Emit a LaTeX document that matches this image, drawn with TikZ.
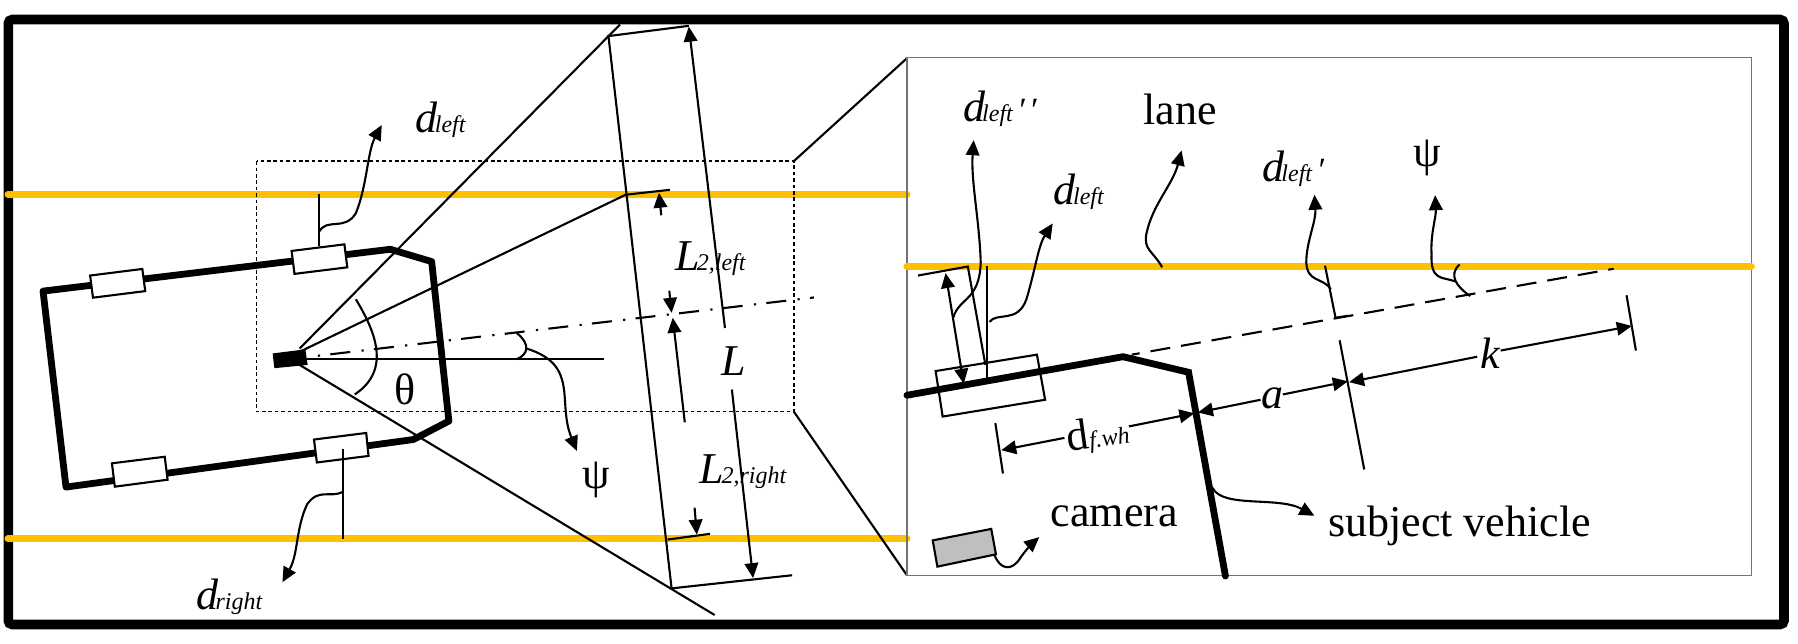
\documentclass[tikz,border=0pt]{standalone}
\usepackage{fontspec}
\setmainfont{Liberation Serif}
\usetikzlibrary{arrows.meta}
\definecolor{lanecol}{HTML}{FFC000}
\newcommand{\subtxt}[1]{{\fontsize{12}{12}\selectfont\kern-1.4pt #1}}
\newcommand{\dsub}[1]{\textit{d\subtxt{#1}}}
\newcommand{\onepr}{{\fontsize{17}{17}\selectfont\textit{′}}}
\tikzset{
 scopeA/.style={x=0.287pt,y=-0.205pt},
 scopeB/.style={x=0.29275pt,y=-0.205pt,shift={(440pt,0pt)}},
 thinline/.style={line width=1.05pt,black},
 carline/.style={line width=3.4pt,black,line join=miter,line cap=round},
 laneline/.style={line width=3.5pt,lanecol,line cap=round},
 wheelbox/.style={line width=1.05pt,draw=black,fill=white},
 tip/.style={-{Triangle[length=7.5pt,width=6.8pt]}},
 tips/.style={{Triangle[length=7.5pt,width=6.8pt]}-{Triangle[length=7.5pt,width=6.8pt]}},
 lbl/.style={inner sep=0pt,font=\fontsize{22}{24}\selectfont},
}
\begin{document}
\begin{tikzpicture}[x=0.5pt,y=-0.5pt]
\useasboundingbox (0,0) rectangle (1798,643);
\fill[white] (0,0) rectangle (1798,643);
% frame
\draw[line width=4.8pt,black,rounded corners=2pt] (8.3,19.5) rectangle (1784,624.5);
% ---------- left part
\begin{scope}[scopeA]
\draw[laneline] (14,474) -- (1580,474);
\draw[laneline] (14,1314) -- (1580,1314);
\draw[line width=0.8pt,dash pattern=on 1.8pt off 1.4pt] (447,393) rectangle (1383,1004);
\draw[thinline] (1383,393) -- (1580,142);
\draw[thinline] (1383,1004) -- (1580,1403);
% rays
\draw[thinline] (522,850) -- (1080,60);
\draw[thinline] (522,858) -- (1090,475) -- (1167,463);
\draw[thinline] (522,890) -- (1245,1500);
\draw[thinline] (535,876) -- (1052,876);
\draw[line width=1.05pt,dash pattern=on 10pt off 5.7pt on 1.1pt off 5.15pt,dash phase=11.7pt] (540,870) -- (1418,725.5);
% far plane
\draw[thinline] (1200,63) -- (1060,88) -- (1170,1435) -- (1380,1403);
% car
\draw[carline,line join=round] (680,608) -- (752,638) -- (782,1027) -- (720,1072) -- (115,1188) -- (75,710) -- cycle;
\draw[wheelbox] (157,672) -- (248,656) -- (253,710) -- (162,726) -- cycle;
\draw[wheelbox] (508,612) -- (600,596) -- (605,652) -- (513,668) -- cycle;
\draw[wheelbox] (195,1130) -- (287,1114) -- (292,1170) -- (200,1187) -- cycle;
\draw[wheelbox] (547,1072) -- (638,1056) -- (642,1112) -- (552,1128) -- cycle;
\fill[black] (475,862) -- (532,852) -- (536,890) -- (478,898) -- cycle;
% angle arcs
\draw[thinline] (620,730) .. controls (650,800) and (685,900) .. (618,962);
\draw[thinline] (900,812) .. controls (925,840) and (920,865) .. (900,876);
\draw[thinline,tip] (917,850) .. controls (1010,890) and (970,980) .. (1005,1100);
% L arrows
\draw[thinline,tip] (1263,800) -- (1200,65);
\draw[thinline,tip] (1275,950) -- (1312,1410);
\draw[thinline,tip] (1152,525) -- (1148,470);
\draw[thinline,tip] (1193,1030) -- (1172,775);
\draw[thinline,tip] (1166,709) -- (1170,763);
\draw[thinline,tip] (1210,1238) -- (1214,1304);
\draw[thinline] (1163,1316) -- (1237,1302);
% d left / right
\draw[thinline] (556,472) -- (556,600);
\draw[thinline,tip] (556,565) .. controls (570,530) and (600,565) .. (620,520) .. controls (640,450) and (640,370) .. (665,305);
\draw[thinline] (597,1095) -- (597,1315);
\draw[thinline,tip] (597,1200) .. controls (575,1215) and (555,1190) .. (535,1230) .. controls (515,1290) and (520,1350) .. (492,1420);
% labels
\node[lbl] (dleftA) at (768,292) {\dsub{left}};
\node[lbl] (l2left) at (1238,630) {\textit{L\subtxt{2,left}}};
\node[lbl] (bigL) at (1278,880) {\textit{L}};
\node[lbl] (thetaA) at (706,950) {θ};
\node[lbl] (psiA) at (1038,1170) {ψ};
\node[lbl] (l2right) at (1295,1150) {\textit{L\subtxt{2,right}}};
\node[lbl] (drightA) at (400,1456) {\dsub{right}};
\end{scope}
% ---------- right part
\begin{scope}[scopeB]
\draw[line width=0.6pt,black!55] (46,140) rectangle (1488,1403);
\draw[laneline] (46,650) -- (1488,650);
\draw[line width=1.05pt,dash pattern=on 10pt off 5.5pt,dash phase=6pt] (430,865) -- (1253,655.5);
\draw[line width=1.05pt] (95,905) -- (268,865) -- (282,975) -- (107,1016) -- cycle;
\draw[carline,line join=miter] (46,964) -- (415,870) -- (527,908) -- (590,1405);
% d left parts
\draw[thinline] (65,672) -- (150,650) -- (180,890);
\draw[thinline] (183,648) -- (183,922);
\draw[thinline,tips] (112,666) -- (143,936);
\draw[thinline,tip] (125,775) .. controls (135,725) and (170,735) .. (172,640) .. controls (170,540) and (155,440) .. (160,342);
\draw[thinline,tip] (187,785) .. controls (200,760) and (235,790) .. (250,730) .. controls (265,660) and (270,600) .. (295,545);
\draw[thinline,tip] (482,652) .. controls (465,610) and (450,610) .. (455,570) .. controls (465,500) and (500,450) .. (515,367);
\draw[thinline] (760,648) -- (778,775) -- (800,770);
\draw[thinline,tip] (770,705) .. controls (755,675) and (730,690) .. (728,640) .. controls (728,590) and (745,540) .. (742,475);
\draw[thinline] (990,645) .. controls (970,670) and (985,700) .. (1008,722);
\draw[thinline,tip] (982,686) .. controls (960,675) and (940,685) .. (942,620) .. controls (940,570) and (950,530) .. (948,476);
% dimensions
\draw[thinline] (197,1032) -- (210,1155);
\draw[thinline] (785,830) -- (827,1145);
\draw[thinline] (1275,720) -- (1291,855);
\draw[thinline,tip] (315,1068) -- (207,1098);
\draw[thinline,tip] (425,1040) -- (537,1008);
\draw[thinline,tip] (650,975) -- (543,1006);
\draw[thinline,tip] (688,962) -- (799,930);
\draw[thinline,tip] (1020,870) -- (801,932);
\draw[thinline,tip] (1060,855) -- (1284,795);
% camera
\draw[line width=1.05pt,fill=black!25] (90,1318) -- (190,1290) -- (198,1352) -- (98,1382) -- cycle;
\draw[thinline,tip] (195,1352) .. controls (205,1390) and (225,1395) .. (240,1360) .. controls (250,1340) and (260,1325) .. (272,1310);
\draw[thinline,tip] (568,1190) .. controls (585,1240) and (680,1210) .. (742,1258);
% labels
\node[lbl] (dpp) at (205,266) {\dsub{left}\kern2pt\onepr\kern2pt\onepr};
\node[lbl] (lanelbl) at (513,268) {lane};
\node[lbl] (dleftB) at (340,468) {\dsub{left}};
\node[lbl] (dp) at (706,412) {\dsub{left}\kern2pt\onepr};
\node[lbl] (psiB) at (935,386) {ψ};
\node[lbl,rotate=8] (dfwh) at (372,1060) {d{\fontsize{12}{12}\selectfont\textit{f.wh}}};
\node[lbl] (alab) at (670,972) {\textit{a}};
\node[lbl] (klab) at (1043,862) {\textit{k}};
\node[lbl] (cam) at (400,1260) {camera};
\node[lbl] (subj) at (990,1283) {subject vehicle};
\end{scope}
\end{tikzpicture}
\end{document}
